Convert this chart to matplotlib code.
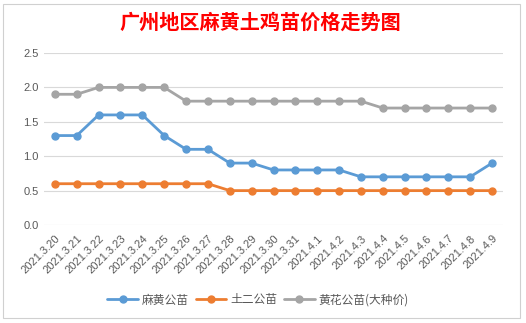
import matplotlib
matplotlib.use("Agg")
import matplotlib.pyplot as plt
from matplotlib.patches import Rectangle

plt.rcParams['font.family'] = ['Noto Sans CJK SC', 'DejaVu Sans']

dates = ["2021.3.20", "2021.3.21", "2021.3.22", "2021.3.23", "2021.3.24", "2021.3.25",
         "2021.3.26", "2021.3.27", "2021.3.28", "2021.3.29", "2021.3.30", "2021.3.31",
         "2021.4.1", "2021.4.2", "2021.4.3", "2021.4.4", "2021.4.5", "2021.4.6",
         "2021.4.7", "2021.4.8", "2021.4.9"]
mahuang = [1.3, 1.3, 1.6, 1.6, 1.6, 1.3, 1.1, 1.1, 0.9, 0.9, 0.8, 0.8, 0.8, 0.8,
           0.7, 0.7, 0.7, 0.7, 0.7, 0.7, 0.9]
tuer = [0.6, 0.6, 0.6, 0.6, 0.6, 0.6, 0.6, 0.6, 0.5, 0.5, 0.5, 0.5, 0.5, 0.5,
        0.5, 0.5, 0.5, 0.5, 0.5, 0.5, 0.5]
huanghua = [1.9, 1.9, 2.0, 2.0, 2.0, 2.0, 1.8, 1.8, 1.8, 1.8, 1.8, 1.8, 1.8, 1.8,
            1.8, 1.7, 1.7, 1.7, 1.7, 1.7, 1.7]
series_names = ["麻黄公苗", "土二公苗", "黄花公苗(大种价)"]
colors = ["#5B9BD5", "#ED7D31", "#A5A5A5"]
yticks = [0.0, 0.5, 1.0, 1.5, 2.0, 2.5]
title = "广州地区麻黄土鸡苗价格走势图"

fig = plt.figure(figsize=(5.26, 3.23), dpi=100)
fig.patch.set_facecolor("white")
fig.add_artist(Rectangle((3/526, 5/323), 517/526, 314/323, transform=fig.transFigure,
                         facecolor="white", edgecolor="#D0D0D0", linewidth=0.8, zorder=0))

ax = fig.add_axes([44/526, 1-225/323, (503-44)/526, (225-53)/323])
ax.set_facecolor("none")
x = list(range(len(dates)))
for vals, name, c in zip([mahuang, tuer, huanghua], series_names, colors):
    ax.plot(x, vals, color=c, linewidth=2.0, marker="o", markersize=5, label=name,
            solid_capstyle="round", zorder=3)

ax.set_xlim(-0.5, len(dates) - 0.5)
ax.set_ylim(0, 2.5)
ax.set_yticks(yticks)
ax.set_yticklabels([f"{v:.1f}" for v in yticks], fontsize=8, color="#595959",
                   family=["Liberation Sans", "DejaVu Sans"])
ax.set_xticks(x)
ax.set_xticklabels(dates, rotation=45, ha="right", rotation_mode="anchor",
                   fontsize=8, color="#595959", family=["Liberation Sans", "DejaVu Sans"])
ax.tick_params(axis="both", length=0, pad=4)
ax.tick_params(axis="x", pad=6)
ax.grid(axis="y", color="#D9D9D9", linewidth=0.8)
ax.set_axisbelow(True)
for s in ax.spines.values():
    s.set_visible(False)

fig.text(260/526, 1-22/323, title, color="#FF0000", fontsize=14.5, fontweight="bold",
         ha="center", va="center")

fig.legend(loc="center", bbox_to_anchor=(258/526, 1-300/323), ncol=3, frameon=False,
           fontsize=8.5, handlelength=2.6, columnspacing=0.6, handletextpad=0.3,
           labelcolor="#595959")

fig.savefig("out.png", dpi=100)
